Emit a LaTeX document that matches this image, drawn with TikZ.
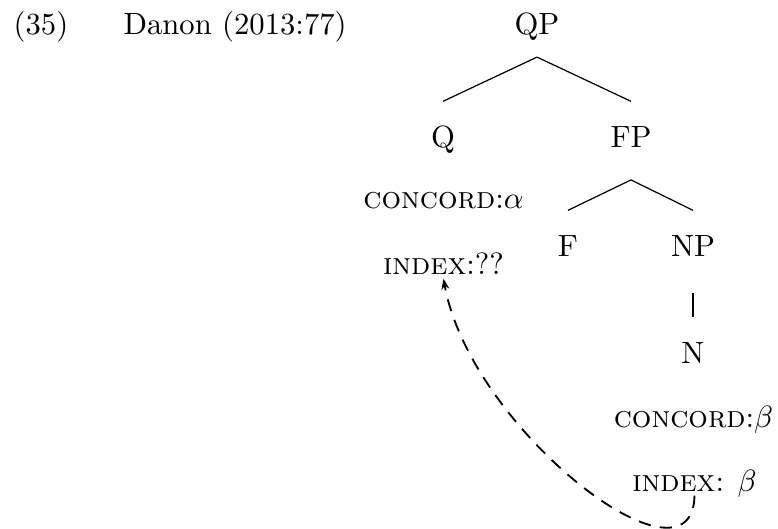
\documentclass[tikz,border=0pt]{standalone}
\usetikzlibrary{arrows.meta}
\begin{document}
\begin{tikzpicture}[x=0.3257pt,y=-0.3257pt,
  lab/.style={inner sep=0pt, anchor=base},
  tn/.style={lab, text height=15pt, text depth=7pt},
  feat/.style={lab, text depth=0pt},
  tl/.style={line width=0.4pt},
  dep/.style={-{Stealth[length=3.5pt,width=2.6pt]}, line width=0.6pt, dash pattern=on 4pt off 3pt}]
\useasboundingbox (0,0) rectangle (778,529);
\node[lab, anchor=base west] (ex) at (13,35) {(35)};
\node[lab, anchor=base west] (src) at (123,35) {Danon (2013:77)};
\node[tn] (QP) at (537,35) {QP};
\node[tn] (Q) at (443,148) {Q};
\node[tn] (FP) at (631,148) {FP};
\node[tn] (F) at (568,257) {F};
\node[tn] (NP) at (693,257) {NP};
\node[tn] (N) at (693,364) {N};
\node[feat] (ca) at (443.5,209) {\textsc{concord}:$\alpha$};
\node[feat] (iq) at (443.5,275) {\textsc{index}:??};
\node[feat] (cb) at (693.5,428) {\textsc{concord}:$\beta$};
\node[feat] (ib) at (694.5,492) {\textsc{index}: $\beta$};
\draw[tl] (QP.south) -- (Q.north);
\draw[tl] (QP.south) -- (FP.north);
\draw[tl] ([yshift=-3.2pt]FP.south) -- (F.north);
\draw[tl] ([yshift=-3.2pt]FP.south) -- (NP.north);
\draw[tl] ([yshift=-4.4pt]NP.south) -- (N.north);
\draw[dep] ([yshift=-1pt]ib.south) .. controls +(-2,104) and +(27,151) .. ([yshift=-1pt]iq.south);
\end{tikzpicture}
\end{document}
